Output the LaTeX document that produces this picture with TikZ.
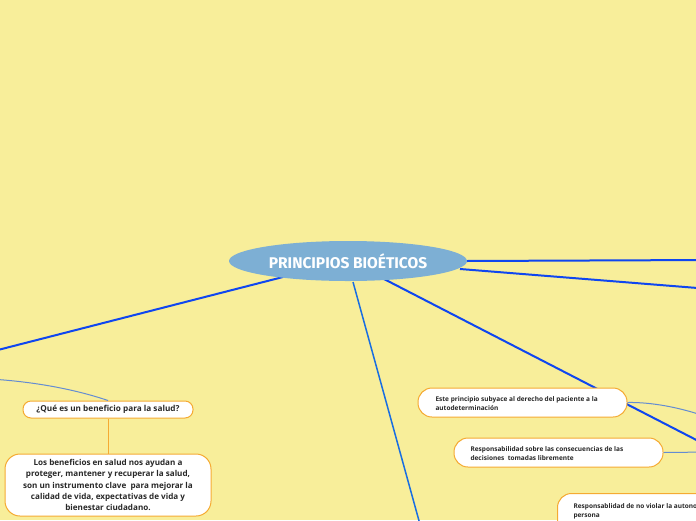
\documentclass[tikz,border=0pt]{standalone}
\usepackage{fontspec}
\setmainfont{Open Sans}
\newfontfamily\titlefont{Fira Sans}
\usetikzlibrary{shapes.geometric}
\definecolor{bgyellow}{RGB}{248,238,154}
\definecolor{ellblue}{RGB}{125,175,212}
\definecolor{mainblue}{RGB}{15,70,240}
\definecolor{midblue}{RGB}{25,110,225}
\definecolor{thinblue}{RGB}{100,140,210}
\definecolor{boxorange}{RGB}{245,170,50}
\definecolor{txt}{RGB}{40,40,40}
\tikzset{
  mainline/.style={draw=mainblue,line width=2pt},
  midline/.style={draw=midblue,line width=1.5pt},
  thinline/.style={draw=thinblue,line width=1pt},
  orangeline/.style={draw=boxorange,line width=1pt},
  topicbox/.style={draw=boxorange,line width=1pt,fill=white,text=txt,font=\bfseries},
  smalltext/.style={align=left,text=txt,font=\bfseries\fontsize{6.5}{9}\selectfont},
}
\begin{document}
\begin{tikzpicture}[x=1pt,y=-1pt]
\useasboundingbox (0,0) rectangle (696,520);
\clip (0,0) rectangle (696,520);
\fill[bgyellow] (0,0) rectangle (696,520);
% off-screen ends
\coordinate (offL) at (-10,352);
\coordinate (offR1) at (710,260);
\coordinate (offR2) at (710,289);
\coordinate (offR3) at (710,447);
\coordinate (offB) at (421,528);
\coordinate (offLthin) at (-10,379);
\coordinate (offRthin1) at (710,418);
\coordinate (offRthin2) at (710,452);
% left boxes
\node[topicbox,rounded corners=8pt,minimum width=170pt,minimum height=17pt,inner sep=0pt,font=\bfseries\fontsize{8.2}{9}\selectfont] (q) at (108,409.5) {¿Qué es un beneficio para la salud?};
\node[topicbox,rounded corners=15pt,minimum width=206pt,minimum height=62pt,inner sep=0pt,align=center,font=\bfseries\fontsize{8.1}{11.2}\selectfont] (ans) at (108,485) {Los beneficios en salud nos ayudan a\\proteger, mantener y recuperar la salud,\\son un instrumento clave \ para mejorar la\\calidad de vida, expectativas de vida y\\bienestar ciudadano.};
% connectors
\draw[mainline] (offL) -- (283,277);
\draw[mainline] (466,261) -- (offR1);
\draw[mainline] (460,269) -- (offR2);
\draw[mainline] (384,279) -- (offR3);
\draw[midline] (353,282) -- (offB);
\draw[thinline] (offLthin) .. controls (40,382) and (80,391) .. (q.north);
\draw[orangeline] (q.south) -- (ans.north);
% right boxes
\node[topicbox,rounded corners=14pt,minimum width=209pt,minimum height=29pt,inner sep=0pt] (e1) at (522.5,402.5) {};
\node[smalltext,anchor=west] (t1) at (432,403.5) {Este principio subyace al derecho del paciente a la\\autodeterminación};
\node[topicbox,rounded corners=14pt,minimum width=209pt,minimum height=29pt,inner sep=0pt] (e2) at (558.5,452.5) {};
\node[smalltext,anchor=west] (t2) at (467,453.5) {Responsabilidad sobre las consecuencias de las\\decisiones \ tomadas libremente};
\node[topicbox,rounded corners=14pt,minimum width=209pt,minimum height=40pt,inner sep=0pt,anchor=north west] (e3) at (557,493) {};
\node[smalltext,anchor=north west] (t3) at (570,500) {Responsablidad de no violar la autonomía de la\\persona};
\draw[thinline] (e1.east) .. controls (650,402) and (680,407) .. (offRthin1);
\draw[thinline] (e2.east) -- (offRthin2);
% central ellipse
\node[ellipse,fill=ellblue,minimum width=238pt,minimum height=40pt,inner sep=0pt,text=white,font=\titlefont\bfseries\fontsize{15.5}{17}\selectfont] (c) at (348,261) {PRINCIPIOS BIOÉTICOS};
\end{tikzpicture}
\end{document}
